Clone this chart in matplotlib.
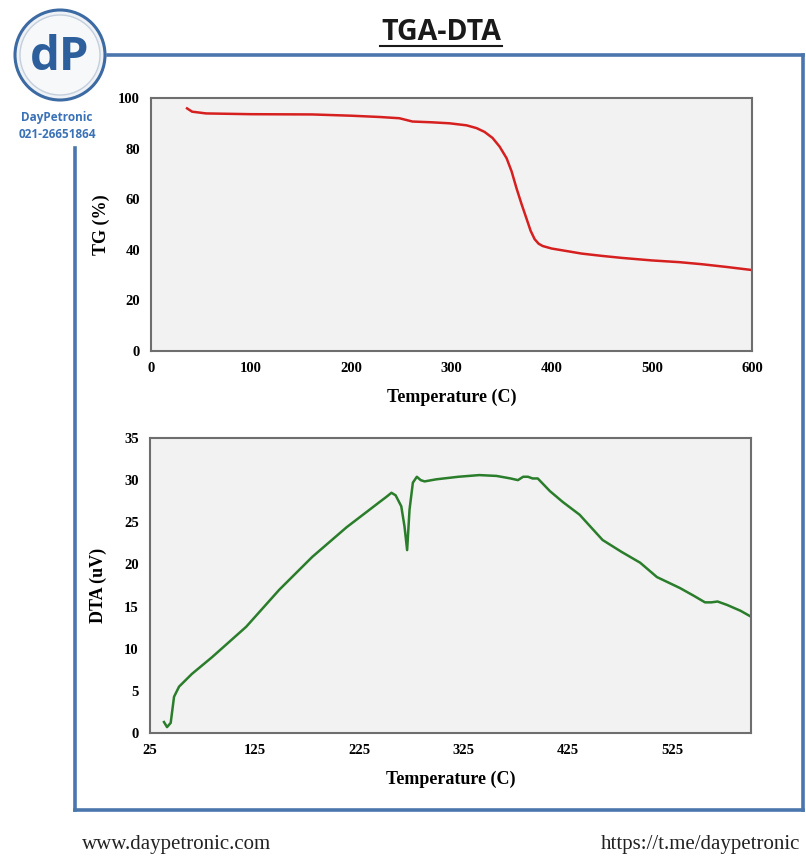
import matplotlib
matplotlib.use("Agg")
import matplotlib.pyplot as plt
from matplotlib.lines import Line2D
from matplotlib.patches import Ellipse

# TG curve (temperature C, weight %)
tg_temp = [36, 41, 55, 100, 161, 200, 228, 248, 261, 280, 298, 315, 325, 333, 341, 348,
           355, 360, 365, 370, 375, 379, 383, 387, 391, 400, 415, 430, 450, 470, 500,
           528, 550, 575, 600]
tg_val = [95.9, 94.6, 93.9, 93.6, 93.5, 93.0, 92.5, 92.0, 90.7, 90.4, 90.0, 89.2, 88.1,
          86.6, 84.2, 80.8, 76.2, 71.0, 64.2, 58.0, 52.2, 47.5, 44.2, 42.4, 41.5, 40.5,
          39.5, 38.5, 37.6, 36.8, 35.8, 35.1, 34.3, 33.2, 32.0]

# DTA curve (temperature C, uV)
dta_temp = [38.4, 41.3, 44.8, 48, 52.8, 65, 84.4, 117, 148.7, 180.3, 213, 244.6, 251, 256,
            260, 265.4, 268.5, 271, 273.3, 276.5, 280.3, 284, 287.7, 299, 320, 340, 356.5,
            370, 377, 382, 386.7, 391, 396, 407.6, 420, 436, 458, 476, 494, 510, 532, 545,
            556, 562, 568, 577, 590, 600]
dta_val = [1.3, 0.7, 1.2, 4.3, 5.5, 7.0, 9.0, 12.6, 17.0, 20.9, 24.4, 27.4, 28.0, 28.5,
           28.2, 26.9, 24.5, 21.7, 26.5, 29.7, 30.4, 30.0, 29.85, 30.1, 30.4, 30.6, 30.5,
           30.2, 30.0, 30.4, 30.4, 30.2, 30.2, 28.7, 27.4, 25.9, 22.9, 21.5, 20.2, 18.5,
           17.2, 16.3, 15.5, 15.5, 15.6, 15.2, 14.5, 13.8]

tg_xticks = [0, 100, 200, 300, 400, 500, 600]
tg_yticks = [0, 20, 40, 60, 80, 100]
dta_xticks = [25, 125, 225, 325, 425, 525]
dta_yticks = [0, 5, 10, 15, 20, 25, 30, 35]

W, H = 806, 858
fig = plt.figure(figsize=(W / 100, H / 100), dpi=100)
fig.patch.set_facecolor("white")


def fx(x):
    return x / W


def fy(y):
    return 1 - y / H


serif = "Liberation Serif"
frame_col = "#4a76ad"


def style(ax):
    ax.set_facecolor("#f2f2f2")
    for s in ax.spines.values():
        s.set_color("#6e6e6e")
        s.set_linewidth(1.5)
    ax.tick_params(length=0, pad=8)
    for lab in ax.get_xticklabels() + ax.get_yticklabels():
        lab.set_fontfamily(serif)
        lab.set_fontweight("bold")
        lab.set_fontsize(10.5)


# top: TG
ax1 = fig.add_axes([fx(151), fy(351), fx(752) - fx(151), fy(98) - fy(351)])
ax1.plot(tg_temp, tg_val, color="#d62020", lw=1.8, solid_joinstyle="round")
ax1.set_xlim(0, 600)
ax1.set_ylim(0, 100)
ax1.set_xticks(tg_xticks)
ax1.set_yticks(tg_yticks)
style(ax1)
ax1.set_xlabel("Temperature (C)", fontfamily=serif, fontweight="bold", fontsize=13, labelpad=10)
ax1.set_ylabel("TG (%)", fontfamily=serif, fontweight="bold", fontsize=13, labelpad=6)

# bottom: DTA
ax2 = fig.add_axes([fx(150), fy(733), fx(751) - fx(150), fy(438) - fy(733)])
ax2.plot(dta_temp, dta_val, color="#2a7d2a", lw=1.8, solid_joinstyle="round")
ax2.set_xlim(25, 600)
ax2.set_ylim(0, 35)
ax2.set_xticks(dta_xticks)
ax2.set_yticks(dta_yticks)
style(ax2)
ax2.set_xlabel("Temperature (C)", fontfamily=serif, fontweight="bold", fontsize=13, labelpad=10)
ax2.set_ylabel("DTA (uV)", fontfamily=serif, fontweight="bold", fontsize=13, labelpad=12)

# frame around the charts
for (x0, y0, x1, y1) in [(108, 55, 803, 55), (803, 55, 803, 810), (75, 810, 803, 810), (75, 148, 75, 810)]:
    fig.add_artist(Line2D([fx(x0), fx(x1)], [fy(y0), fy(y1)], color=frame_col, lw=2.6,
                          solid_capstyle="projecting"))

# title
fig.text(fx(441), fy(33), "TGA-DTA", ha="center", va="center", fontfamily="Open Sans",
         fontweight="bold", fontsize=20.5, color="#1a1a1a")
fig.add_artist(Line2D([fx(380), fx(502)], [fy(46), fy(46)], color="#1a1a1a", lw=1.5))

# logo
fig.add_artist(Ellipse((fx(60), fy(55)), 2 * 45 / W, 2 * 45 / H, facecolor="#eef1f5",
                       edgecolor="#3c6aa3", lw=2.2))
fig.add_artist(Ellipse((fx(60), fy(55)), 2 * 40 / W, 2 * 40 / H, facecolor="#f7f8fa",
                       edgecolor="#c5cfdc", lw=1))
fig.text(fx(60), fy(58), "dP", ha="center", va="center", fontfamily="Open Sans",
         fontweight="bold", fontsize=34, color="#2d5f9c")
fig.text(fx(57), fy(117), "DayPetronic", ha="center", va="center", fontfamily="Open Sans",
         fontweight="bold", fontsize=8.5, color="#3a72b8")
fig.text(fx(57), fy(134), "021-26651864", ha="center", va="center", fontfamily="Open Sans",
         fontweight="bold", fontsize=8.5, color="#3a72b8")

# footer
fig.text(fx(82), fy(845), "www.daypetronic.com", ha="left", va="center", fontfamily=serif,
         fontsize=15, color="#222222")
fig.text(fx(800), fy(845), "https://t.me/daypetronic", ha="right", va="center", fontfamily=serif,
         fontsize=15, color="#222222")

fig.savefig("out.png", dpi=100)
